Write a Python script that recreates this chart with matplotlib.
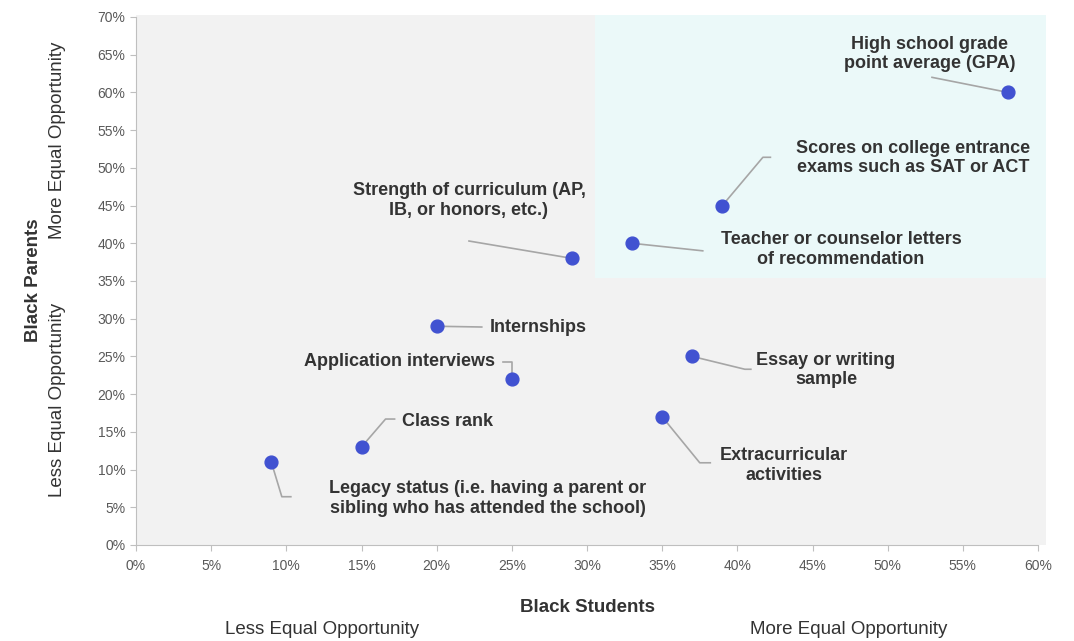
import matplotlib
matplotlib.use('Agg')
import matplotlib.pyplot as plt
from matplotlib.patches import Rectangle
from matplotlib.ticker import PercentFormatter

# ========== Data ==========
labels = [
    'High school grade\npoint average (GPA)',
    'Scores on college entrance\nexams such as SAT or ACT',
    'Teacher or counselor letters\nof recommendation',
    'Strength of curriculum (AP,\nIB, or honors, etc.)',
    'Internships',
    'Application interviews',
    'Essay or writing\nsample',
    'Extracurricular\nactivities',
    'Class rank',
    'Legacy status (i.e. having a parent or\nsibling who has attended the school)',
]
students = [58, 39, 33, 29, 20, 25, 37, 35, 15, 9]
parents = [60, 45, 40, 38, 29, 22, 25, 17, 13, 11]

# label anchor (x, y, ha) and leader line path in data units
label_pos = [
    (52.8, 65.1, 'center'),
    (51.7, 51.3, 'center'),
    (46.9, 39.2, 'center'),
    (22.15, 45.7, 'center'),
    (23.5, 28.8, 'left'),
    (23.9, 24.3, 'right'),
    (45.9, 23.2, 'center'),
    (43.1, 10.5, 'center'),
    (17.7, 16.4, 'left'),
    (23.4, 6.2, 'center'),
]
leaders = [
    [(52.95, 62.0)],
    [(41.7, 51.4), (42.2, 51.4)],
    [(37.7, 39.0)],
    [(22.15, 40.3)],
    [(23.0, 28.9)],
    [(25.0, 24.3), (24.4, 24.3)],
    [(40.5, 23.3), (40.9, 23.3)],
    [(37.5, 10.9), (38.2, 10.9)],
    [(16.6, 16.7), (17.2, 16.7)],
    [(9.7, 6.4), (10.3, 6.4)],
]

# ========== Figure ==========
fig = plt.figure(figsize=(10.74, 6.41), dpi=100)
ax = fig.add_axes([136 / 1074, 1 - 545 / 641, (1038 - 136) / 1074, (545 - 17) / 641])
ax.set_facecolor('none')
ax.set_xlim(0, 60)
ax.set_ylim(0, 70)

ax.add_patch(Rectangle((0, 0), 60.5, 70.2, facecolor='#f2f2f2', edgecolor='none',
                       clip_on=False, zorder=0))
ax.add_patch(Rectangle((30.5, 35.4), 30.0, 34.8, facecolor='#ebf9f9', edgecolor='none',
                       clip_on=False, zorder=0.5))

for (x, y), path, (tx, ty, ha), lab in zip(zip(students, parents), leaders, label_pos, labels):
    xs = [x] + [p[0] for p in path]
    ys = [y] + [p[1] for p in path]
    ax.plot(xs, ys, color='#a6a6a6', lw=1.2, zorder=2, clip_on=False)
    ax.text(tx, ty, lab, ha=ha, va='center', fontsize=13, fontweight='bold',
            color='#333333', family='Liberation Sans', linespacing=1.2, zorder=4)

ax.scatter(students, parents, s=85, color='#4152d1', zorder=3, clip_on=False)

ax.set_xticks(range(0, 61, 5))
ax.set_yticks(range(0, 71, 5))
ax.xaxis.set_major_formatter(PercentFormatter(decimals=0))
ax.yaxis.set_major_formatter(PercentFormatter(decimals=0))
for s in ['top', 'right']:
    ax.spines[s].set_visible(False)
for s in ['left', 'bottom']:
    ax.spines[s].set_color('#bfbfbf')
    ax.spines[s].set_zorder(1)
ax.tick_params(axis='both', colors='#bfbfbf', length=4, labelcolor='#595959',
               labelsize=10)
ax.tick_params(axis='x', pad=6)
for t in ax.get_xticklabels() + ax.get_yticklabels():
    t.set_family(['Liberation Sans Narrow', 'Liberation Sans'])

# axis titles
fig.text(587 / 1074, 1 - 607 / 641, 'Black Students', ha='center', va='center',
         fontsize=13.5, fontweight='bold', color='#333333', family='Liberation Sans')
fig.text(322 / 1074, 1 - 630 / 641, 'Less Equal Opportunity', ha='center', va='center',
         fontsize=13.5, color='#333333', family='Liberation Sans')
fig.text(849 / 1074, 1 - 630 / 641, 'More Equal Opportunity', ha='center', va='center',
         fontsize=13.5, color='#333333', family='Liberation Sans')
fig.text(34 / 1074, 1 - 280 / 641, 'Black Parents', ha='center', va='center', rotation=90,
         fontsize=13.5, fontweight='bold', color='#333333', family='Liberation Sans')
fig.text(57 / 1074, 1 - 140 / 641, 'More Equal Opportunity', ha='center', va='center',
         rotation=90, fontsize=13.5, color='#333333', family='Liberation Sans')
fig.text(57 / 1074, 1 - 400 / 641, 'Less Equal Opportunity', ha='center', va='center',
         rotation=90, fontsize=13.5, color='#333333', family='Liberation Sans')

fig.savefig('out.png', dpi=100, facecolor='white')
